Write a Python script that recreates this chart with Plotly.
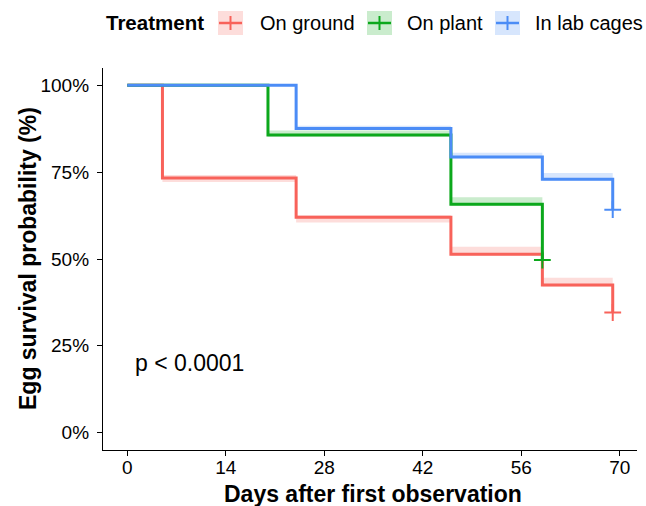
import plotly.graph_objects as go

# ---------------- data ----------------
treatments = ["On ground", "On plant", "In lab cages"]

days_ground = [0, 5, 24, 46, 59, 69]
surv_ground = [1.0, 0.733, 0.620, 0.514, 0.425, 0.346]
upper_ground = [1.0, 0.742, 0.626, 0.535, 0.446, 0.346]
lower_ground = [1.0, 0.722, 0.605, 0.510, 0.421, 0.346]

days_plant = [0, 20, 46, 59]
surv_plant = [1.0, 0.857, 0.658, 0.497]
upper_plant = [1.0, 0.870, 0.678, 0.497]
lower_plant = [1.0, 0.853, 0.654, 0.497]

days_lab = [0, 24, 46, 59, 69]
surv_lab = [1.0, 0.876, 0.794, 0.730, 0.642]
upper_lab = [1.0, 0.884, 0.806, 0.748, 0.642]
lower_lab = [1.0, 0.872, 0.790, 0.726, 0.642]

x_ticks = [0, 14, 28, 42, 56, 70]
y_ticks = [0, 0.25, 0.5, 0.75, 1.0]
y_tick_labels = ["0%", "25%", "50%", "75%", "100%"]
pval_text = "p < 0.0001"

colors = ["#F8625A", "#0CA81C", "#4B8CF6"]
fills = ["rgba(248,98,90,0.22)", "rgba(12,168,28,0.22)", "rgba(75,140,246,0.22)"]

series = [
    (days_ground, surv_ground, upper_ground, lower_ground),
    (days_plant, surv_plant, upper_plant, lower_plant),
    (days_lab, surv_lab, upper_lab, lower_lab),
]

FONT = "Liberation Sans, Arial, sans-serif"
W, H = 646, 506
L, R, T, B = 103, 9, 68, 56
PW, PH = W - L - R, H - T - B

fig = go.Figure()

# ribbons
for (d, s, up, lo), fc in zip(series, fills):
    fig.add_trace(go.Scatter(x=d, y=lo, mode="lines", line=dict(width=0, shape="hv"),
                             showlegend=False, hoverinfo="skip"))
    fig.add_trace(go.Scatter(x=d, y=up, mode="lines", line=dict(width=0, shape="hv"),
                             fill="tonexty", fillcolor=fc, showlegend=False, hoverinfo="skip"))

# survival steps + censor marks
for name, (d, s, up, lo), c in zip(treatments, series, colors):
    fig.add_trace(go.Scatter(x=d, y=s, mode="lines", name=name,
                             line=dict(color=c, width=3, shape="hv"), showlegend=False))
    fig.add_trace(go.Scatter(x=[d[-1]], y=[s[-1]], mode="markers", showlegend=False,
                             marker=dict(symbol="cross-thin", size=12,
                                         line=dict(color=c, width=2))))


def pp(px, py):
    return (px - L) / PW, (H - B - py) / PH


shapes = []
annotations = []

# manual legend (ggplot style keys)
legend_y = 23
LEG_SIZE = 20
annotations.append(dict(x=pp(104, 0)[0], y=pp(0, legend_y)[1], xref="paper", yref="paper",
                        text="<b>Treatment</b>", showarrow=False, xanchor="left", yanchor="middle",
                        font=dict(family=FONT, size=LEG_SIZE + 0.5, color="black")))
key_x = [218, 367, 495]
text_x = [258, 405, 533]
for name, kx, tx, c, fc in zip(treatments, key_x, text_x, colors, fills):
    x0, y0 = pp(kx, legend_y + 12)
    x1, y1 = pp(kx + 25, legend_y - 12)
    shapes.append(dict(type="rect", xref="paper", yref="paper", x0=x0, x1=x1, y0=y0, y1=y1,
                       fillcolor=fc, line=dict(width=0), layer="above"))
    hx0, hy = pp(kx + 1, legend_y)
    hx1, _ = pp(kx + 24, legend_y)
    shapes.append(dict(type="line", xref="paper", yref="paper", x0=hx0, x1=hx1, y0=hy, y1=hy,
                       line=dict(color=c, width=2.5), layer="above"))
    vx, vy0 = pp(kx + 12.5, legend_y - 7)
    _, vy1 = pp(kx + 12.5, legend_y + 7)
    shapes.append(dict(type="line", xref="paper", yref="paper", x0=vx, x1=vx, y0=vy0, y1=vy1,
                       line=dict(color=c, width=2), layer="above"))
    annotations.append(dict(x=pp(tx, 0)[0], y=pp(0, legend_y)[1], xref="paper", yref="paper",
                            text=name, showarrow=False, xanchor="left", yanchor="middle",
                            font=dict(family=FONT, size=LEG_SIZE, color="black")))

# axis titles
annotations.append(dict(x=pp(373, 0)[0], y=pp(0, 494)[1], xref="paper", yref="paper",
                        text="<b>Days after first observation</b>", showarrow=False,
                        xanchor="center", yanchor="middle",
                        font=dict(family=FONT, size=23, color="black")))
annotations.append(dict(x=pp(28, 0)[0], y=pp(0, T + PH / 2)[1], xref="paper", yref="paper",
                        text="<b>Egg survival probability (%)</b>", showarrow=False, textangle=-90,
                        xanchor="center", yanchor="middle",
                        font=dict(family=FONT, size=23, color="black")))

# p-value
annotations.append(dict(x=0.75, y=0.2, xref="x", yref="y", text=pval_text, showarrow=False,
                        xanchor="left", yanchor="middle",
                        font=dict(family=FONT, size=23, color="black")))

fig.update_layout(
    width=W, height=H,
    margin=dict(l=L, r=R, t=T, b=B),
    paper_bgcolor="white", plot_bgcolor="white",
    showlegend=False,
    shapes=shapes, annotations=annotations,
    font=dict(family=FONT, color="black"),
    xaxis=dict(range=[-3.45, 72.45], tickvals=x_ticks, ticks="outside", ticklen=5,
               tickwidth=1.2, tickcolor="black", showline=True, linecolor="black", linewidth=1.3,
               showgrid=False, zeroline=False, ticklabelstandoff=-5,
               tickfont=dict(family=FONT, size=19, color="black")),
    yaxis=dict(range=[-0.05, 1.05], tickvals=y_ticks, ticktext=y_tick_labels, ticks="outside",
               ticklen=5, tickwidth=1.2, tickcolor="black", showline=True, linecolor="black",
               linewidth=1.3, showgrid=False, zeroline=False, ticklabelstandoff=4,
               tickfont=dict(family=FONT, size=19, color="black")),
)

fig.write_html("out.html", config={"displayModeBar": False},
               post_script="document.body.style.margin='0';document.body.style.overflow='hidden';")
